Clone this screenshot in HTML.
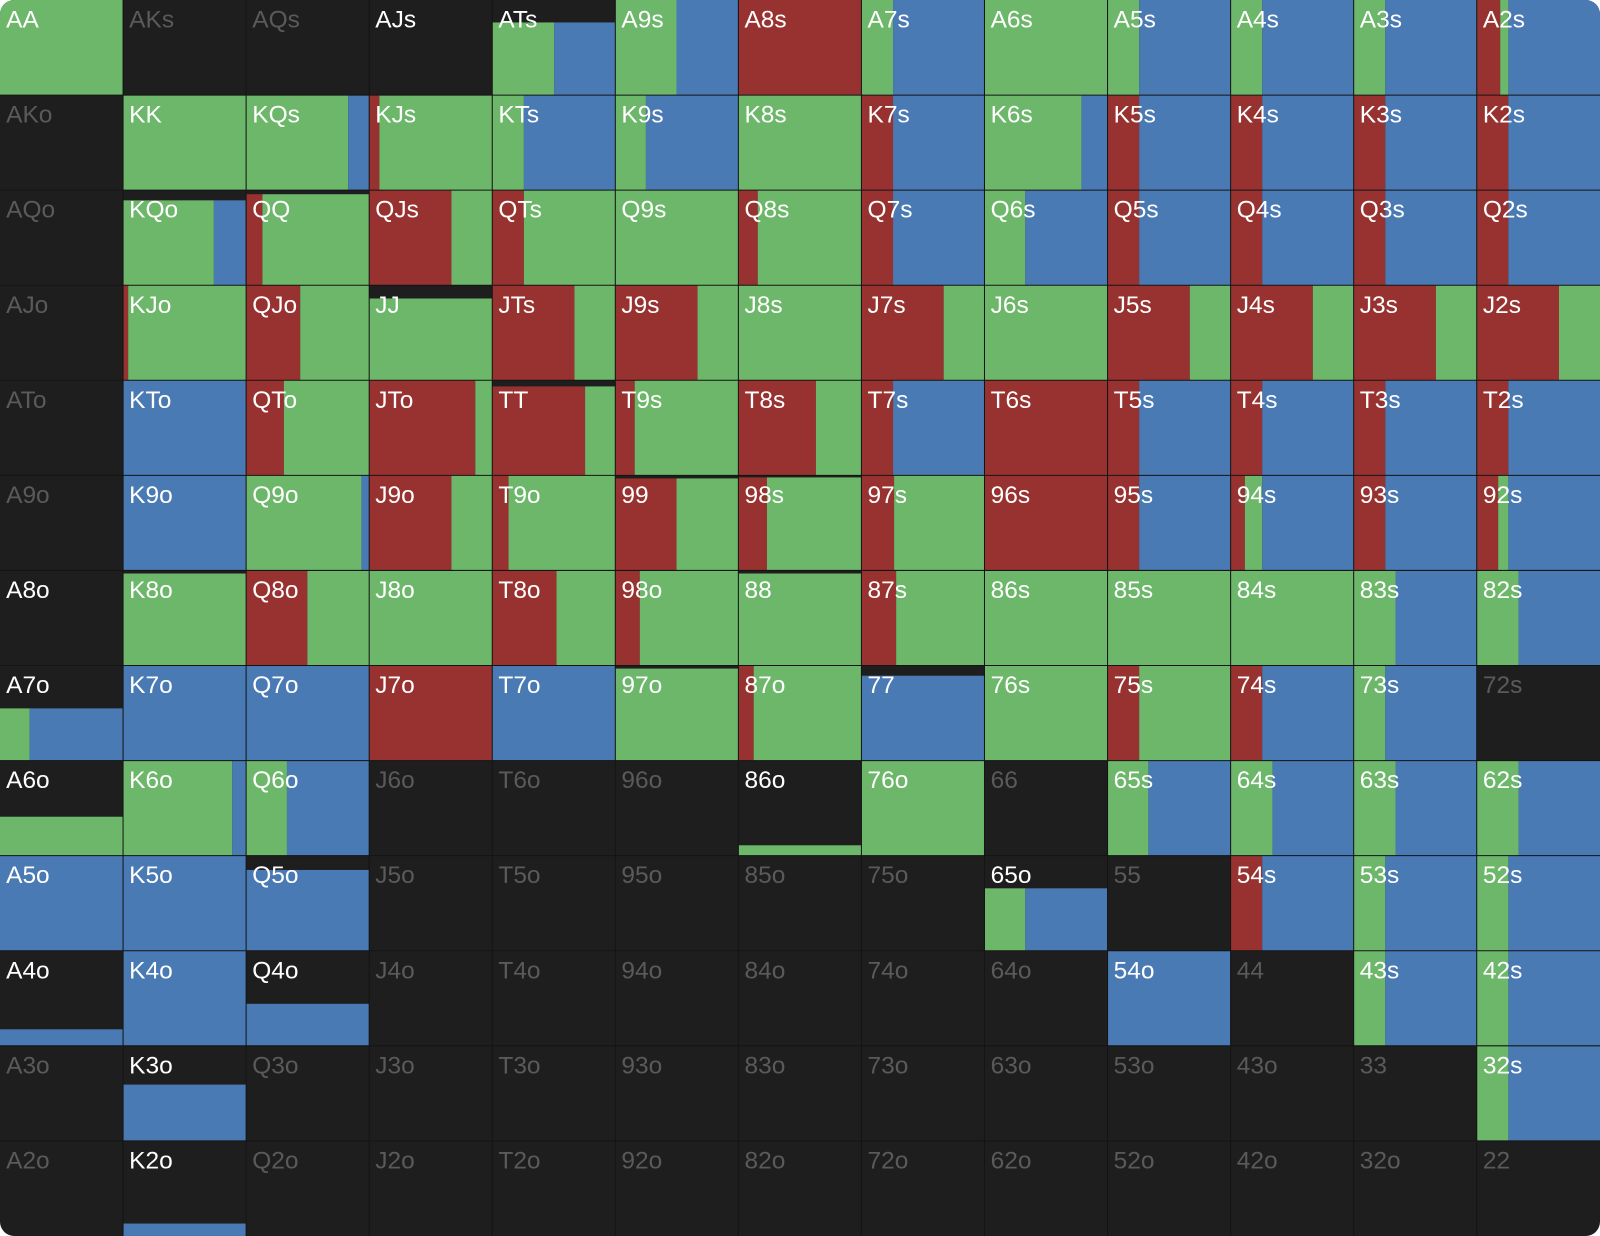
<!DOCTYPE html>
<html><head><meta charset="utf-8"><style>
html,body{margin:0;padding:0;background:#fff;}
svg{display:block}
text{font-family:"Liberation Sans",sans-serif;font-size:24px;fill:#fff;}
text.d{fill:#5a5a5a}
.g{fill:#6db76a}.b{fill:#4a7ab4}.r{fill:#983230}
</style></head><body>
<svg width="1600" height="1236" viewBox="0 0 1568 1211" preserveAspectRatio="none">
<defs><clipPath id="cp"><rect x="0" y="0" width="1568" height="1211" rx="14"/></clipPath></defs>
<g clip-path="url(#cp)">
<rect x="0" y="0" width="1568" height="1211" fill="#1e1e1e"/>
<!-- row0 -->
<g transform="translate(0,0)">
<rect class="g" x="0" y="0" width="120.6" height="93.15"/>
<rect class="g" x="482.4" y="22" width="60.6" height="71.15"/><rect class="b" x="543" y="22" width="60" height="71.15"/>
<rect class="g" x="603" y="0" width="60" height="93.15"/><rect class="b" x="663" y="0" width="60.6" height="93.15"/>
<rect class="r" x="723.6" y="0" width="120.6" height="93.15"/>
<rect class="g" x="844.2" y="0" width="31" height="93.15"/><rect class="b" x="875.2" y="0" width="89.6" height="93.15"/>
<rect class="g" x="964.8" y="0" width="120.6" height="93.15"/>
<rect class="g" x="1085.4" y="0" width="31" height="93.15"/><rect class="b" x="1116.4" y="0" width="89.6" height="93.15"/>
<rect class="g" x="1206" y="0" width="31" height="93.15"/><rect class="b" x="1237" y="0" width="89.6" height="93.15"/>
<rect class="g" x="1326.6" y="0" width="31" height="93.15"/><rect class="b" x="1357.6" y="0" width="89.6" height="93.15"/>
<rect class="r" x="1447.2" y="0" width="23" height="93.15"/><rect class="g" x="1470.2" y="0" width="8" height="93.15"/><rect class="b" x="1478.2" y="0" width="89.8" height="93.15"/>
</g>
<!-- row1 -->
<g transform="translate(0,93.15)">
<rect class="g" x="120.6" y="0" width="120.6" height="93.15"/>
<rect class="g" x="241.2" y="0" width="100" height="93.15"/><rect class="b" x="341.2" y="0" width="20.6" height="93.15"/>
<rect class="r" x="361.8" y="0" width="10" height="93.15"/><rect class="g" x="371.8" y="0" width="110.6" height="93.15"/>
<rect class="g" x="482.4" y="0" width="31" height="93.15"/><rect class="b" x="513.4" y="0" width="89.6" height="93.15"/>
<rect class="g" x="603" y="0" width="30" height="93.15"/><rect class="b" x="633" y="0" width="90.6" height="93.15"/>
<rect class="g" x="723.6" y="0" width="120.6" height="93.15"/>
<rect class="r" x="844.2" y="0" width="31" height="93.15"/><rect class="b" x="875.2" y="0" width="89.6" height="93.15"/>
<rect class="g" x="964.8" y="0" width="95" height="93.15"/><rect class="b" x="1059.8" y="0" width="25.6" height="93.15"/>
<rect class="r" x="1085.4" y="0" width="31" height="93.15"/><rect class="b" x="1116.4" y="0" width="89.6" height="93.15"/>
<rect class="r" x="1206" y="0" width="31" height="93.15"/><rect class="b" x="1237" y="0" width="89.6" height="93.15"/>
<rect class="r" x="1326.6" y="0" width="31" height="93.15"/><rect class="b" x="1357.6" y="0" width="89.6" height="93.15"/>
<rect class="r" x="1447.2" y="0" width="31" height="93.15"/><rect class="b" x="1478.2" y="0" width="89.8" height="93.15"/>
</g>
<!-- row2 -->
<g transform="translate(0,186.3)">
<rect class="g" x="120.6" y="10" width="89" height="83.15"/><rect class="b" x="209.6" y="10" width="31" height="83.15"/>
<rect class="r" x="241.2" y="4" width="16" height="89.15"/><rect class="g" x="257.2" y="4" width="104.6" height="89.15"/>
<rect class="r" x="361.8" y="0" width="80.6" height="93.15"/><rect class="g" x="442.4" y="0" width="40" height="93.15"/>
<rect class="r" x="482.4" y="0" width="31" height="93.15"/><rect class="g" x="513.4" y="0" width="89.6" height="93.15"/>
<rect class="g" x="603" y="0" width="120.6" height="93.15"/>
<rect class="r" x="723.6" y="0" width="19" height="93.15"/><rect class="g" x="742.6" y="0" width="101.6" height="93.15"/>
<rect class="r" x="844.2" y="0" width="31" height="93.15"/><rect class="b" x="875.2" y="0" width="89.6" height="93.15"/>
<rect class="g" x="964.8" y="0" width="40" height="93.15"/><rect class="b" x="1004.8" y="0" width="80.6" height="93.15"/>
<rect class="r" x="1085.4" y="0" width="31" height="93.15"/><rect class="b" x="1116.4" y="0" width="89.6" height="93.15"/>
<rect class="r" x="1206" y="0" width="31" height="93.15"/><rect class="b" x="1237" y="0" width="89.6" height="93.15"/>
<rect class="r" x="1326.6" y="0" width="31" height="93.15"/><rect class="b" x="1357.6" y="0" width="89.6" height="93.15"/>
<rect class="r" x="1447.2" y="0" width="31" height="93.15"/><rect class="b" x="1478.2" y="0" width="89.8" height="93.15"/>
</g>
<!-- row3 -->
<g transform="translate(0,279.45)">
<rect class="r" x="120.6" y="0" width="5" height="93.15"/><rect class="g" x="125.6" y="0" width="115.6" height="93.15"/>
<rect class="r" x="241.2" y="0" width="53" height="93.15"/><rect class="g" x="294.2" y="0" width="67.6" height="93.15"/>
<rect class="g" x="361.8" y="13" width="120.6" height="80.15"/>
<rect class="r" x="482.4" y="0" width="80.6" height="93.15"/><rect class="g" x="563" y="0" width="40" height="93.15"/>
<rect class="r" x="603" y="0" width="80.6" height="93.15"/><rect class="g" x="683.6" y="0" width="40" height="93.15"/>
<rect class="g" x="723.6" y="0" width="120.6" height="93.15"/>
<rect class="r" x="844.2" y="0" width="80.6" height="93.15"/><rect class="g" x="924.8" y="0" width="40" height="93.15"/>
<rect class="g" x="964.8" y="0" width="120.6" height="93.15"/>
<rect class="r" x="1085.4" y="0" width="80.6" height="93.15"/><rect class="g" x="1166" y="0" width="40" height="93.15"/>
<rect class="r" x="1206" y="0" width="80.6" height="93.15"/><rect class="g" x="1286.6" y="0" width="40" height="93.15"/>
<rect class="r" x="1326.6" y="0" width="80.6" height="93.15"/><rect class="g" x="1407.2" y="0" width="40" height="93.15"/>
<rect class="r" x="1447.2" y="0" width="80.6" height="93.15"/><rect class="g" x="1527.8" y="0" width="40.2" height="93.15"/>
</g>
<!-- row4 -->
<g transform="translate(0,372.6)">
<rect class="b" x="120.6" y="0" width="120.6" height="93.15"/>
<rect class="r" x="241.2" y="0" width="37" height="93.15"/><rect class="g" x="278.2" y="0" width="83.6" height="93.15"/>
<rect class="r" x="361.8" y="0" width="104" height="93.15"/><rect class="g" x="465.8" y="0" width="16.6" height="93.15"/>
<rect class="r" x="482.4" y="6" width="91" height="87.15"/><rect class="g" x="573.4" y="6" width="29.6" height="87.15"/>
<rect class="r" x="603" y="0" width="19" height="93.15"/><rect class="g" x="622" y="0" width="101.6" height="93.15"/>
<rect class="r" x="723.6" y="0" width="76" height="93.15"/><rect class="g" x="799.6" y="0" width="44.6" height="93.15"/>
<rect class="r" x="844.2" y="0" width="31" height="93.15"/><rect class="b" x="875.2" y="0" width="89.6" height="93.15"/>
<rect class="r" x="964.8" y="0" width="120.6" height="93.15"/>
<rect class="r" x="1085.4" y="0" width="31" height="93.15"/><rect class="b" x="1116.4" y="0" width="89.6" height="93.15"/>
<rect class="r" x="1206" y="0" width="31" height="93.15"/><rect class="b" x="1237" y="0" width="89.6" height="93.15"/>
<rect class="r" x="1326.6" y="0" width="31" height="93.15"/><rect class="b" x="1357.6" y="0" width="89.6" height="93.15"/>
<rect class="r" x="1447.2" y="0" width="31" height="93.15"/><rect class="b" x="1478.2" y="0" width="89.8" height="93.15"/>
</g>
<!-- row5 -->
<g transform="translate(0,465.75)">
<rect class="b" x="120.6" y="0" width="120.6" height="93.15"/>
<rect class="g" x="241.2" y="0" width="113" height="93.15"/><rect class="b" x="354.2" y="0" width="7.6" height="93.15"/>
<rect class="r" x="361.8" y="0" width="80.6" height="93.15"/><rect class="g" x="442.4" y="0" width="40" height="93.15"/>
<rect class="r" x="482.4" y="0" width="16" height="93.15"/><rect class="g" x="498.4" y="0" width="104.6" height="93.15"/>
<rect class="r" x="603" y="3" width="60" height="90.15"/><rect class="g" x="663" y="3" width="60.6" height="90.15"/>
<rect class="r" x="723.6" y="2" width="28" height="91.15"/><rect class="g" x="751.6" y="2" width="92.6" height="91.15"/>
<rect class="r" x="844.2" y="0" width="32" height="93.15"/><rect class="g" x="876.2" y="0" width="88.6" height="93.15"/>
<rect class="r" x="964.8" y="0" width="120.6" height="93.15"/>
<rect class="r" x="1085.4" y="0" width="31" height="93.15"/><rect class="b" x="1116.4" y="0" width="89.6" height="93.15"/>
<rect class="r" x="1206" y="0" width="14" height="93.15"/><rect class="g" x="1220" y="0" width="17" height="93.15"/><rect class="b" x="1237" y="0" width="89.6" height="93.15"/>
<rect class="r" x="1326.6" y="0" width="31" height="93.15"/><rect class="b" x="1357.6" y="0" width="89.6" height="93.15"/>
<rect class="r" x="1447.2" y="0" width="21" height="93.15"/><rect class="g" x="1468.2" y="0" width="10" height="93.15"/><rect class="b" x="1478.2" y="0" width="89.8" height="93.15"/>
</g>
<!-- row6 -->
<g transform="translate(0,558.9)">
<rect class="g" x="120.6" y="3" width="120.6" height="90.15"/>
<rect class="r" x="241.2" y="0" width="60" height="93.15"/><rect class="g" x="301.2" y="0" width="60.6" height="93.15"/>
<rect class="g" x="361.8" y="0" width="120.6" height="93.15"/>
<rect class="r" x="482.4" y="0" width="63" height="93.15"/><rect class="g" x="545.4" y="0" width="57.6" height="93.15"/>
<rect class="r" x="603" y="0" width="24" height="93.15"/><rect class="g" x="627" y="0" width="96.6" height="93.15"/>
<rect class="g" x="723.6" y="3" width="120.6" height="90.15"/>
<rect class="r" x="844.2" y="0" width="34" height="93.15"/><rect class="g" x="878.2" y="0" width="86.6" height="93.15"/>
<rect class="g" x="964.8" y="0" width="361.8" height="93.15"/>
<rect class="g" x="1326.6" y="0" width="41" height="93.15"/><rect class="b" x="1367.6" y="0" width="79.6" height="93.15"/>
<rect class="g" x="1447.2" y="0" width="41" height="93.15"/><rect class="b" x="1488.2" y="0" width="79.8" height="93.15"/>
</g>
<!-- row7 -->
<g transform="translate(0,652.05)">
<rect class="g" x="0" y="42" width="29" height="51.15"/><rect class="b" x="29" y="42" width="91.6" height="51.15"/>
<rect class="b" x="120.6" y="0" width="241.2" height="93.15"/>
<rect class="r" x="361.8" y="0" width="120.6" height="93.15"/>
<rect class="b" x="482.4" y="0" width="120.6" height="93.15"/>
<rect class="g" x="603" y="3" width="120.6" height="90.15"/>
<rect class="r" x="723.6" y="0" width="15" height="93.15"/><rect class="g" x="738.6" y="0" width="105.6" height="93.15"/>
<rect class="b" x="844.2" y="10" width="120.6" height="83.15"/>
<rect class="g" x="964.8" y="0" width="120.6" height="93.15"/>
<rect class="r" x="1085.4" y="0" width="31" height="93.15"/><rect class="g" x="1116.4" y="0" width="89.6" height="93.15"/>
<rect class="r" x="1206" y="0" width="31" height="93.15"/><rect class="b" x="1237" y="0" width="89.6" height="93.15"/>
<rect class="g" x="1326.6" y="0" width="31" height="93.15"/><rect class="b" x="1357.6" y="0" width="89.6" height="93.15"/>
</g>
<!-- row8 -->
<g transform="translate(0,745.2)">
<rect class="g" x="0" y="55" width="120.6" height="38.15"/>
<rect class="g" x="120.6" y="0" width="107" height="93.15"/><rect class="b" x="227.6" y="0" width="13.6" height="93.15"/>
<rect class="g" x="241.2" y="0" width="40" height="93.15"/><rect class="b" x="281.2" y="0" width="80.6" height="93.15"/>
<rect class="g" x="723.6" y="83" width="120.6" height="10.15"/>
<rect class="g" x="844.2" y="0" width="120.6" height="93.15"/>
<rect class="g" x="1085.4" y="0" width="40" height="93.15"/><rect class="b" x="1125.4" y="0" width="80.6" height="93.15"/>
<rect class="g" x="1206" y="0" width="41" height="93.15"/><rect class="b" x="1247" y="0" width="79.6" height="93.15"/>
<rect class="g" x="1326.6" y="0" width="41" height="93.15"/><rect class="b" x="1367.6" y="0" width="79.6" height="93.15"/>
<rect class="g" x="1447.2" y="0" width="41" height="93.15"/><rect class="b" x="1488.2" y="0" width="79.8" height="93.15"/>
</g>
<!-- row9 -->
<g transform="translate(0,838.35)">
<rect class="b" x="0" y="0" width="241.2" height="93.15"/>
<rect class="b" x="241.2" y="14" width="120.6" height="79.15"/>
<rect class="g" x="964.8" y="32" width="40" height="61.15"/><rect class="b" x="1004.8" y="32" width="80.6" height="61.15"/>
<rect class="r" x="1206" y="0" width="31" height="93.15"/><rect class="b" x="1237" y="0" width="89.6" height="93.15"/>
<rect class="g" x="1326.6" y="0" width="31" height="93.15"/><rect class="b" x="1357.6" y="0" width="89.6" height="93.15"/>
<rect class="g" x="1447.2" y="0" width="31" height="93.15"/><rect class="b" x="1478.2" y="0" width="89.8" height="93.15"/>
</g>
<!-- row10 -->
<g transform="translate(0,931.5)">
<rect class="b" x="0" y="77" width="120.6" height="16.15"/>
<rect class="b" x="120.6" y="0" width="120.6" height="93.15"/>
<rect class="b" x="241.2" y="52" width="120.6" height="41.15"/>
<rect class="b" x="1085.4" y="0" width="120.6" height="93.15"/>
<rect class="g" x="1326.6" y="0" width="31" height="93.15"/><rect class="b" x="1357.6" y="0" width="89.6" height="93.15"/>
<rect class="g" x="1447.2" y="0" width="31" height="93.15"/><rect class="b" x="1478.2" y="0" width="89.8" height="93.15"/>
</g>
<!-- row11 -->
<g transform="translate(0,1024.65)">
<rect class="b" x="120.6" y="38" width="120.6" height="55.15"/>
<rect class="g" x="1447.2" y="0" width="31" height="93.15"/><rect class="b" x="1478.2" y="0" width="89.8" height="93.15"/>
</g>
<!-- row12 -->
<g transform="translate(0,1117.8)">
<rect class="b" x="120.6" y="81" width="120.6" height="12.15"/>
</g>
<!-- grid -->
<path stroke="#141414" stroke-width="1" fill="none" d="M120.6 0V1211M241.2 0V1211M361.8 0V1211M482.4 0V1211M603 0V1211M723.6 0V1211M844.2 0V1211M964.8 0V1211M1085.4 0V1211M1206 0V1211M1326.6 0V1211M1447.2 0V1211M0 93.15H1568M0 186.3H1568M0 279.45H1568M0 372.6H1568M0 465.75H1568M0 558.9H1568M0 652.05H1568M0 745.2H1568M0 838.35H1568M0 931.5H1568M0 1024.65H1568M0 1117.8H1568"/>
<!-- labels -->
<g transform="translate(0,27)">
<text x="6">AA</text><text class="d" x="126.6">AKs</text><text class="d" x="247.2">AQs</text><text x="367.8">AJs</text><text x="488.4">ATs</text><text x="609">A9s</text><text x="729.6">A8s</text><text x="850.2">A7s</text><text x="970.8">A6s</text><text x="1091.4">A5s</text><text x="1212">A4s</text><text x="1332.6">A3s</text><text x="1453.2">A2s</text>
</g>
<g transform="translate(0,120.15)">
<text class="d" x="6">AKo</text><text x="126.6">KK</text><text x="247.2">KQs</text><text x="367.8">KJs</text><text x="488.4">KTs</text><text x="609">K9s</text><text x="729.6">K8s</text><text x="850.2">K7s</text><text x="970.8">K6s</text><text x="1091.4">K5s</text><text x="1212">K4s</text><text x="1332.6">K3s</text><text x="1453.2">K2s</text>
</g>
<g transform="translate(0,213.3)">
<text class="d" x="6">AQo</text><text x="126.6">KQo</text><text x="247.2">QQ</text><text x="367.8">QJs</text><text x="488.4">QTs</text><text x="609">Q9s</text><text x="729.6">Q8s</text><text x="850.2">Q7s</text><text x="970.8">Q6s</text><text x="1091.4">Q5s</text><text x="1212">Q4s</text><text x="1332.6">Q3s</text><text x="1453.2">Q2s</text>
</g>
<g transform="translate(0,306.45)">
<text class="d" x="6">AJo</text><text x="126.6">KJo</text><text x="247.2">QJo</text><text x="367.8">JJ</text><text x="488.4">JTs</text><text x="609">J9s</text><text x="729.6">J8s</text><text x="850.2">J7s</text><text x="970.8">J6s</text><text x="1091.4">J5s</text><text x="1212">J4s</text><text x="1332.6">J3s</text><text x="1453.2">J2s</text>
</g>
<g transform="translate(0,399.6)">
<text class="d" x="6">ATo</text><text x="126.6">KTo</text><text x="247.2">QTo</text><text x="367.8">JTo</text><text x="488.4">TT</text><text x="609">T9s</text><text x="729.6">T8s</text><text x="850.2">T7s</text><text x="970.8">T6s</text><text x="1091.4">T5s</text><text x="1212">T4s</text><text x="1332.6">T3s</text><text x="1453.2">T2s</text>
</g>
<g transform="translate(0,492.75)">
<text class="d" x="6">A9o</text><text x="126.6">K9o</text><text x="247.2">Q9o</text><text x="367.8">J9o</text><text x="488.4">T9o</text><text x="609">99</text><text x="729.6">98s</text><text x="850.2">97s</text><text x="970.8">96s</text><text x="1091.4">95s</text><text x="1212">94s</text><text x="1332.6">93s</text><text x="1453.2">92s</text>
</g>
<g transform="translate(0,585.9)">
<text x="6">A8o</text><text x="126.6">K8o</text><text x="247.2">Q8o</text><text x="367.8">J8o</text><text x="488.4">T8o</text><text x="609">98o</text><text x="729.6">88</text><text x="850.2">87s</text><text x="970.8">86s</text><text x="1091.4">85s</text><text x="1212">84s</text><text x="1332.6">83s</text><text x="1453.2">82s</text>
</g>
<g transform="translate(0,679.05)">
<text x="6">A7o</text><text x="126.6">K7o</text><text x="247.2">Q7o</text><text x="367.8">J7o</text><text x="488.4">T7o</text><text x="609">97o</text><text x="729.6">87o</text><text x="850.2">77</text><text x="970.8">76s</text><text x="1091.4">75s</text><text x="1212">74s</text><text x="1332.6">73s</text><text class="d" x="1453.2">72s</text>
</g>
<g transform="translate(0,772.2)">
<text x="6">A6o</text><text x="126.6">K6o</text><text x="247.2">Q6o</text><text class="d" x="367.8">J6o</text><text class="d" x="488.4">T6o</text><text class="d" x="609">96o</text><text x="729.6">86o</text><text x="850.2">76o</text><text class="d" x="970.8">66</text><text x="1091.4">65s</text><text x="1212">64s</text><text x="1332.6">63s</text><text x="1453.2">62s</text>
</g>
<g transform="translate(0,865.35)">
<text x="6">A5o</text><text x="126.6">K5o</text><text x="247.2">Q5o</text><text class="d" x="367.8">J5o</text><text class="d" x="488.4">T5o</text><text class="d" x="609">95o</text><text class="d" x="729.6">85o</text><text class="d" x="850.2">75o</text><text x="970.8">65o</text><text class="d" x="1091.4">55</text><text x="1212">54s</text><text x="1332.6">53s</text><text x="1453.2">52s</text>
</g>
<g transform="translate(0,958.5)">
<text x="6">A4o</text><text x="126.6">K4o</text><text x="247.2">Q4o</text><text class="d" x="367.8">J4o</text><text class="d" x="488.4">T4o</text><text class="d" x="609">94o</text><text class="d" x="729.6">84o</text><text class="d" x="850.2">74o</text><text class="d" x="970.8">64o</text><text x="1091.4">54o</text><text class="d" x="1212">44</text><text x="1332.6">43s</text><text x="1453.2">42s</text>
</g>
<g transform="translate(0,1051.65)">
<text class="d" x="6">A3o</text><text x="126.6">K3o</text><text class="d" x="247.2">Q3o</text><text class="d" x="367.8">J3o</text><text class="d" x="488.4">T3o</text><text class="d" x="609">93o</text><text class="d" x="729.6">83o</text><text class="d" x="850.2">73o</text><text class="d" x="970.8">63o</text><text class="d" x="1091.4">53o</text><text class="d" x="1212">43o</text><text class="d" x="1332.6">33</text><text x="1453.2">32s</text>
</g>
<g transform="translate(0,1144.8)">
<text class="d" x="6">A2o</text><text x="126.6">K2o</text><text class="d" x="247.2">Q2o</text><text class="d" x="367.8">J2o</text><text class="d" x="488.4">T2o</text><text class="d" x="609">92o</text><text class="d" x="729.6">82o</text><text class="d" x="850.2">72o</text><text class="d" x="970.8">62o</text><text class="d" x="1091.4">52o</text><text class="d" x="1212">42o</text><text class="d" x="1332.6">32o</text><text class="d" x="1453.2">22</text>
</g>
</g>
</svg>
</body></html>
